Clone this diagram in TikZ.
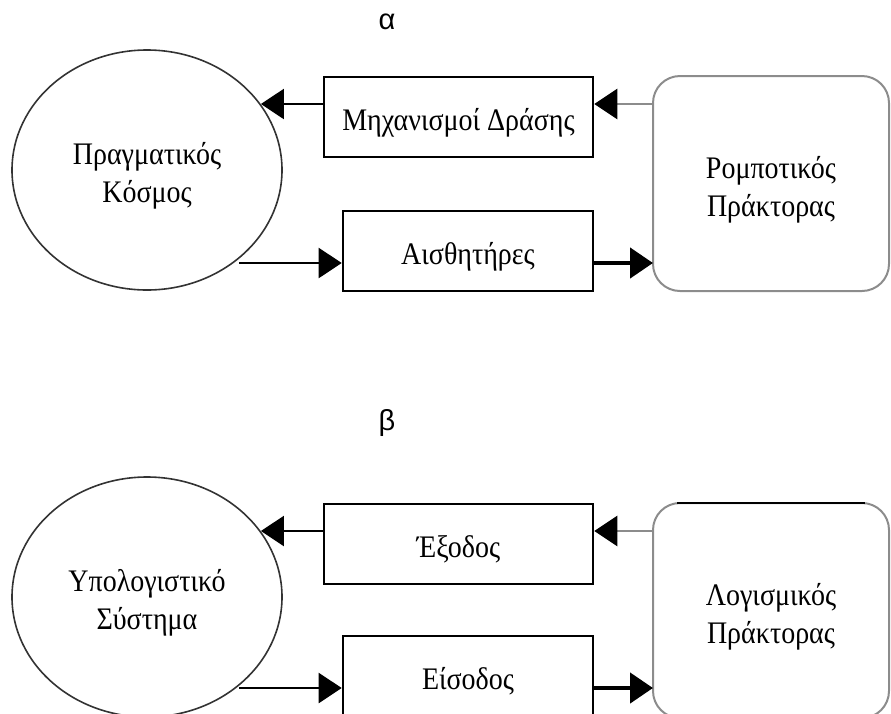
\documentclass[tikz,border=0pt]{standalone}
\usepackage{fontspec}
\usepackage{graphicx}
\setmainfont{Liberation Serif}
\newfontfamily\labelsans{Liberation Sans}
\usetikzlibrary{shapes.geometric,arrows.meta}

% Node text: slightly tall lettering, set a little below the shape's centre
\newcommand\boxtext[1]{\raisebox{-6pt}[\height][\depth]{\scalebox{1}[1.12]{\begin{tabular}{@{}c@{}}#1\end{tabular}}}}

\tikzset{
  every node/.style={font=\fontsize{28}{34}\selectfont, inner sep=0pt},
  world/.style={ellipse, draw=black!80, line width=1.6pt, minimum width=270pt, minimum height=240pt},
  unit/.style={rectangle, draw=black, line width=2.6pt},
  agent/.style={rectangle, rounded corners=27pt, draw=black!45, line width=2pt, outer sep=0pt,
                minimum width=236pt, minimum height=215pt},
  tag/.style={font=\labelsans\fontsize{29}{34}\selectfont},
  head/.style={-{Triangle[length=23pt,width=30pt,color=black]}},
  thin link/.style={head, draw=black, line width=2.2pt},
  grey link/.style={head, draw=black!45, line width=2.6pt},
  bold link/.style={head, draw=black, line width=4.5pt},
}

\begin{document}
\begin{tikzpicture}[x=1pt,y=-1pt]
  \useasboundingbox (0,0) rectangle (891,713);

  % (a) robotic agent
  \node[tag] (alpha) at (387,22) {α};
  \node[world] (real) at (147,170) {\boxtext{Πραγματικός\\Κόσμος}};
  \node[unit, minimum width=269pt, minimum height=80pt] (act) at (458.5,117) {\boxtext{Μηχανισμοί Δράσης}};
  \node[unit, minimum width=250pt, minimum height=80pt] (sens) at (468,251) {\boxtext{Αισθητήρες}};
  \node[agent] (robot) at (771,183.5) {\boxtext{Ρομποτικός\\Πράκτορας}};

  \draw[grey link] ([yshift=13pt]act.east -| robot.west) -- ([yshift=13pt]act.east);
  \draw[thin link] ([yshift=13pt]act.west) -- ([yshift=13pt]act.west -| real.30);
  \draw[thin link] ([yshift=-12pt]sens.west -| real.-44) -- ([yshift=-12pt]sens.west);
  \draw[bold link] ([yshift=-12pt]sens.east) -- ([yshift=-12pt]sens.east -| robot.west);

  % (b) software agent
  \node[tag] (beta) at (387,423) {β};
  \node[world] (comp) at (147,597) {\boxtext{Υπολογιστικό\\Σύστημα}};
  \node[unit, minimum width=269pt, minimum height=80pt] (out) at (458.5,544) {\boxtext{Έξοδος}};
  \node[unit, minimum width=250pt, minimum height=80pt] (in) at (468,676) {\boxtext{Είσοδος}};
  \node[agent] (soft) at (771,610.5) {\boxtext{Λογισμικός\\Πράκτορας}};
  % darker top edge of the software agent box
  \draw[black, line width=2.4pt] ([xshift=24pt]soft.north west) -- ([xshift=-24pt]soft.north east);

  \draw[grey link] ([yshift=13pt]out.east -| soft.west) -- ([yshift=13pt]out.east);
  \draw[thin link] ([yshift=13pt]out.west) -- ([yshift=13pt]out.west -| comp.30);
  \draw[thin link] ([yshift=-12pt]in.west -| comp.-44) -- ([yshift=-12pt]in.west);
  \draw[bold link] ([yshift=-12pt]in.east) -- ([yshift=-12pt]in.east -| soft.west);
\end{tikzpicture}
\end{document}
